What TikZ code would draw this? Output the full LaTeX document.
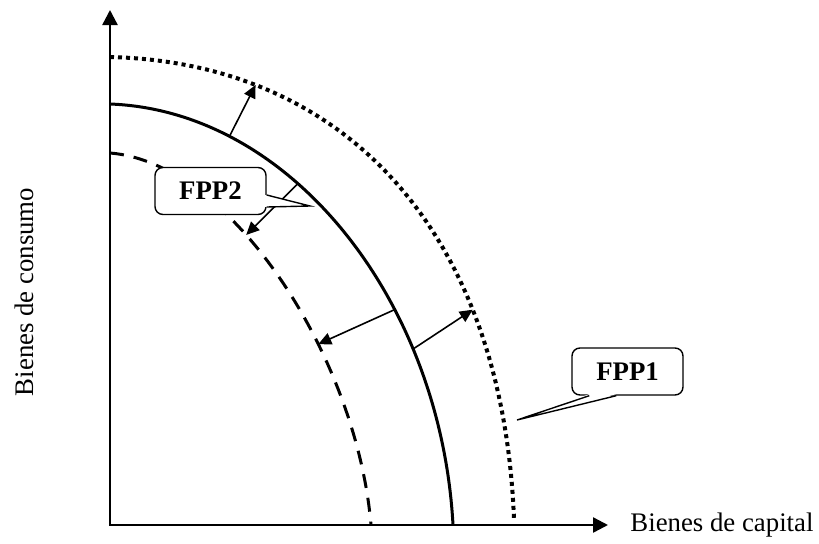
\documentclass[tikz,border=0pt]{standalone}
\usepackage{fontspec}
\setmainfont{Liberation Serif}
\usetikzlibrary{arrows.meta,positioning}

\begin{document}
\begin{tikzpicture}[
    x=0.5pt, y=0.5pt,
    font=\fontsize{13.4}{16}\selectfont,
    axis/.style={line width=1.2pt, line join=miter, {Triangle[length=7.5pt,width=7.5pt]}-{Triangle[length=7.5pt,width=7.5pt]}},
    ppf/.style={line width=1.5pt},
    ppfdash/.style={line width=1.5pt, dash pattern=on 7pt off 5pt},
    ppfdot/.style={line width=2pt, dash pattern=on 2pt off 2pt},
    shiftarrow/.style={line width=0.8pt, -{Triangle[length=6.5pt,width=6pt]}},
    labelbox/.style={draw, line width=0.7pt, fill=white, rounded corners=4pt,
      minimum width=55.5pt, minimum height=23.5pt, font=\fontsize{13.4}{16}\selectfont\bfseries},
    pointer/.style={line width=0.7pt}
  ]
  \useasboundingbox (-110,-18) rectangle (709,525);
  % ejes
  \coordinate (o) at (0,0);
  \coordinate (ytop) at (0,515);
  \coordinate (xend) at (498,0);
  \draw[axis] (ytop) -- (o) -- (xend);
  \node[right=7.7pt of xend] (xlab) {Bienes de capital};
  \node[rotate=90] (ylab) at (-86,233) {Bienes de consumo};

  % fronteras
  \draw[ppfdot] (0,468) .. controls (241,462) and (393,286)
    .. coordinate[pos=0.22] (d1) coordinate[pos=0.72] (d4) (404,6);
  \draw[ppf] (0,421) .. controls (183,414) and (331,222)
    .. coordinate[pos=0.23] (s1) coordinate[pos=0.38] (s2)
       coordinate[pos=0.65] (s3) coordinate[pos=0.72] (s4) (343,0);
  \draw[ppfdash] (0,372) .. controls (123,362) and (247,166)
    .. coordinate[pos=0.385] (n2) coordinate[pos=0.64] (n3) (261,0);

  % desplazamientos
  \draw[shiftarrow] (s1) -- (d1);
  \draw[shiftarrow] (s2) -- (n2);
  \draw[shiftarrow] (s3) -- (n3);
  \draw[shiftarrow] (s4) -- (d4);

  % etiquetas
  \node[labelbox] (fpp2) at (100.5,334) {FPP2};
  \coordinate (tip2) at (200,319);
  \fill[white] ([xshift=-0.8pt,yshift=-2pt]fpp2.east) -- (tip2) -- ([xshift=-0.8pt,yshift=-8pt]fpp2.east) -- cycle;
  \draw[pointer] ([yshift=-2pt]fpp2.east) -- (tip2) -- ([yshift=-8pt]fpp2.east);

  \node[labelbox] (fpp1) at (517.5,153.5) {FPP1};
  \coordinate (tip1) at (407,105);
  \fill[white] ([xshift=22.5pt,yshift=0.8pt]fpp1.south west) -- (tip1) -- ([xshift=9pt,yshift=0.8pt]fpp1.south west) -- cycle;
  \draw[pointer] ([xshift=22.5pt]fpp1.south west) -- (tip1) -- ([xshift=9pt]fpp1.south west);
\end{tikzpicture}
\end{document}
